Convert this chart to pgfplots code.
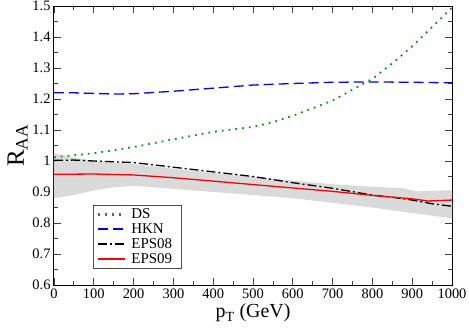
\documentclass[border=0pt]{standalone}
\usepackage{fontspec}
\setmainfont{Liberation Serif}
\usepackage{pgfplots}
\pgfplotsset{compat=1.18}

\definecolor{dsgreen}{RGB}{20,150,20}
\definecolor{hknblue}{RGB}{0,0,255}
\definecolor{eps09red}{RGB}{255,0,0}
\definecolor{bandgray}{RGB}{218,218,218}

\tikzset{
  dsline/.style={dsgreen, line width=1.8bp, dash pattern=on 1.8bp off 5bp},
  hknline/.style={hknblue, line width=1.3bp, dash pattern=on 10bp off 5bp},
  eps08line/.style={black, line width=1.3bp, dash pattern=on 9bp off 3bp on 2bp off 3bp},
  eps09line/.style={eps09red, line width=1.3bp},
}

\begin{document}
\begin{tikzpicture}
\begin{axis}[
    name=ax,
    scale only axis,
    width=398bp, height=279bp,
    xmin=0, xmax=1000,
    ymin=0.6, ymax=1.5,
    xtick={0,100,...,1000},
    ytick={0.6,0.7,...,1.5},
    minor x tick num=1,
    minor y tick num=1,
    tick pos=both,
    tick align=inside,
    major tick length=7bp,
    minor tick length=4bp,
    every tick/.style={black!75, line width=0.8bp},
    axis line style={black, line width=1bp},
    /pgf/number format/assume math mode=true,
    tick label style={font=\fontsize{14.5}{15}\selectfont},
    yticklabel style={/pgf/number format/fixed},
    xticklabel style={/pgf/number format/1000 sep={}},
    xlabel={p\textsubscript{T} (GeV)},
    ylabel={R\textsubscript{AA}},
    xlabel style={font=\fontsize{20}{22}\selectfont, yshift=1bp},
    ylabel style={font=\fontsize{25}{26}\selectfont, yshift=-2bp},
    legend style={at={(rel axis cs:0.098,0.287)}, anchor=north west,
        font=\fontsize{15}{15}\selectfont, draw=black!70,
        inner xsep=4bp, inner ysep=2bp,
        nodes={inner xsep=5bp, inner ysep=1.7bp}},
    legend cell align=left,
]
% uncertainty band
\addplot[draw=none, fill=bandgray, forget plot] coordinates {
 (0,1.025) (50,1.012) (100,1.0) (200,0.99) (300,0.975) (400,0.962)
 (500,0.95) (600,0.937) (700,0.925) (800,0.917) (880,0.912) (910,0.902) (1000,0.906)
 (1000,0.815) (900,0.832) (800,0.85) (700,0.865) (600,0.88) (500,0.89)
 (400,0.9) (300,0.91) (200,0.92) (150,0.915) (100,0.905) (50,0.89) (0,0.88)
};
\addplot[dsline, legend image code/.code={\draw[dsline, line width=2.2bp] (0bp,0bp) -- (27bp,0bp);}] coordinates {
 (0,1.012) (100,1.025) (200,1.045) (300,1.07) (400,1.094) (500,1.11) (550,1.125)
 (600,1.146) (650,1.17) (700,1.195) (750,1.23) (800,1.265) (850,1.315)
 (900,1.37) (950,1.432) (1000,1.495)
};
\addplot[hknline, legend image code/.code={\draw[hknline, line width=1.9bp] (0bp,0bp) -- (27bp,0bp);}] coordinates {
 (0,1.22) (50,1.22) (100,1.218) (150,1.216) (200,1.217) (300,1.225) (400,1.235)
 (500,1.245) (600,1.25) (700,1.254) (800,1.255) (900,1.254) (1000,1.252)
};
\addplot[eps08line, legend image code/.code={\draw[eps08line, line width=1.6bp] (0bp,0bp) -- (27bp,0bp);}] coordinates {
 (0,1.002) (50,1.003) (100,1.0) (200,0.995) (300,0.98) (400,0.965) (500,0.95)
 (600,0.93) (700,0.912) (800,0.89) (850,0.883) (900,0.874) (950,0.862) (1000,0.854)
};
\addplot[eps09line, legend image code/.code={\draw[eps09line, line width=1.7bp] (0bp,0bp) -- (27bp,0bp);}] coordinates {
 (0,0.957) (100,0.958) (200,0.955) (300,0.946) (400,0.935) (500,0.924)
 (600,0.913) (700,0.902) (800,0.889) (900,0.878) (940,0.871) (1000,0.874)
};
\legend{DS, HKN, EPS08, EPS09}
\end{axis}
\pgfresetboundingbox
\path[use as bounding box] ([xshift=-54bp,yshift=-43bp]ax.south west) rectangle ([xshift=17bp,yshift=6bp]ax.north east);
\end{tikzpicture}
\end{document}
